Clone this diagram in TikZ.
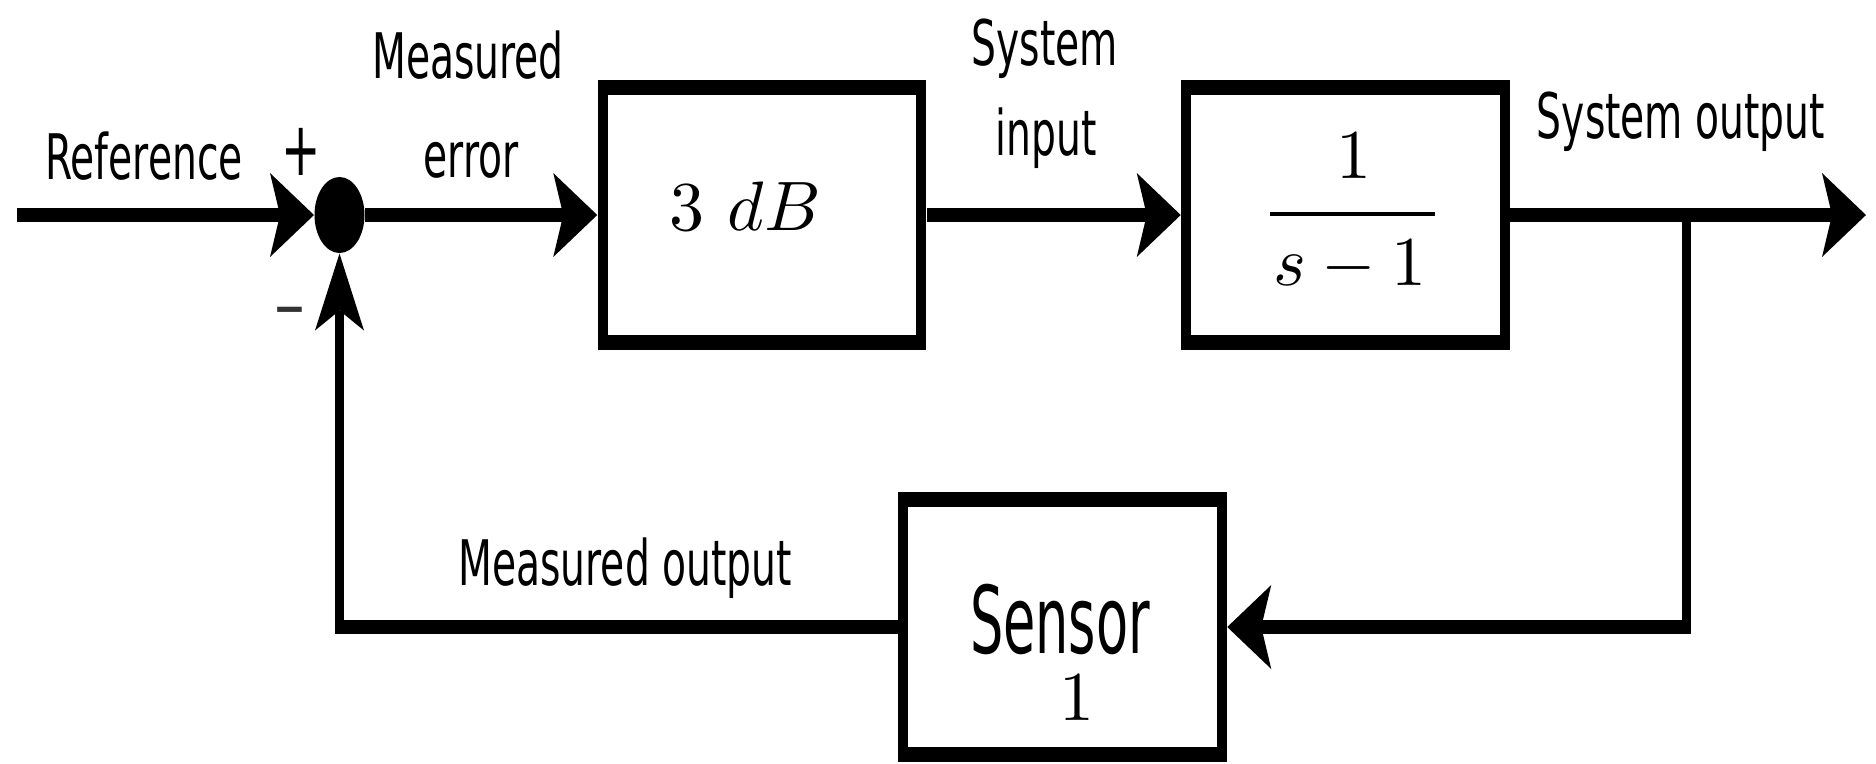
\documentclass[tikz,border=0pt]{standalone}
\usepackage{fontspec}
\usepackage{graphicx}
\usetikzlibrary{arrows.meta,shapes.geometric}
\newfontfamily\labfont{DejaVu Sans}
\newcommand\stretchtxt[2][1.6]{\scalebox{1}[#1]{#2}}
\newcommand\bigmath[1]{\scalebox{2.8}{$#1$}}
\begin{document}
\begin{tikzpicture}[x=0.4pt,y=-0.4pt,line join=miter]
\tikzset{
  hl/.style={line width=5.6pt},
  vl/.style={line width=3.6pt},
  harr/.style={-{Stealth[length=17.6pt,width=33.6pt,inset=4pt,line width=0pt]}},
  varr/.style={-{Stealth[length=30.8pt,width=19.6pt,inset=8pt,line width=0pt]}},
  blk/.style={minimum width=131.4pt, minimum height=108pt, inner sep=0pt, fill=black,
    path picture={\fill[white] ([xshift=4pt,yshift=-6pt]path picture bounding box.north west)
      rectangle ([xshift=-4pt,yshift=6pt]path picture bounding box.south east);}},
  lab/.style={inner sep=0pt, anchor=base, font=\labfont\fontsize{15.7}{18}\selectfont},
  mth/.style={inner sep=0pt, anchor=base, font=\fontsize{10}{12}\selectfont},
}
\useasboundingbox[fill=white] (0,0) rectangle (1876,763);

% blocks
\node[blk] (b1) at (762,215) {};
\node[blk] (b2) at (1345.5,215) {};
\node[blk] (sens) at (1062.5,627) {};
\node[ellipse, fill=black, minimum width=20pt, minimum height=30.4pt, inner sep=0pt] (sum) at (339.5,215) {};

% coordinates
\coordinate (in) at (17,215);
\coordinate (out) at (1866,215);
\coordinate (br) at (1686,215);
\coordinate (c1) at (br |- sens.east);
\coordinate (c2) at (sum |- sens.east);

% connectors
\draw[hl,harr] (in) -- (sum.west);
\draw[hl,harr] (sum.east) -- (b1.west);
\draw[hl,harr] (b1.east) -- (b2.west);
\draw[hl,harr] (b2.east) -- (out);
\draw[vl] (br) -- ([yshift=-2.8pt]c1);
\draw[hl,harr] ([xshift=1.8pt]c1) -- (sens.east);
\draw[hl] (sens.west) -- ([xshift=-1.8pt]c2);
\draw[vl,varr] ([yshift=-2.8pt]c2) -- (sum.south);

% sans labels
\node[lab] (lref) at (144,179) {\stretchtxt{Reference}};
\node[lab, font=\labfont\fontsize{18.8}{20}\selectfont] (lplus) at (301,175) {\stretchtxt{+}};
\node[lab, text=black!80] (lminus) at (290,329) {\stretchtxt{−}};
\node[lab] (lme1) at (468,78) {\stretchtxt{Measured}};
\node[lab] (lme2) at (471,177) {\stretchtxt{error}};
\node[lab] (lsi1) at (1045,65) {\stretchtxt{System}};
\node[lab] (lsi2) at (1046,155) {\stretchtxt{input}};
\node[lab] (lso) at (1681,138) {\stretchtxt{System output}};
\node[lab] (lmo) at (625,585) {\stretchtxt{Measured output}};
\node[lab, font=\labfont\fontsize{21}{24}\selectfont] (lsens) at (1060,653) {\stretchtxt[1.78]{Sensor}};

% math labels
\node[mth] (g1) at (745,230) {\bigmath{3\ dB}};
\node[mth] (fnum) at (1354,178) {\bigmath{1}};
\node[mth] (fden) at (1350,285) {\bigmath{s-1}};
\draw[line width=1.6pt] (1270,214) -- (1435,214);
\node[mth] (g3) at (1077,720) {\bigmath{1}};
\end{tikzpicture}
\end{document}
